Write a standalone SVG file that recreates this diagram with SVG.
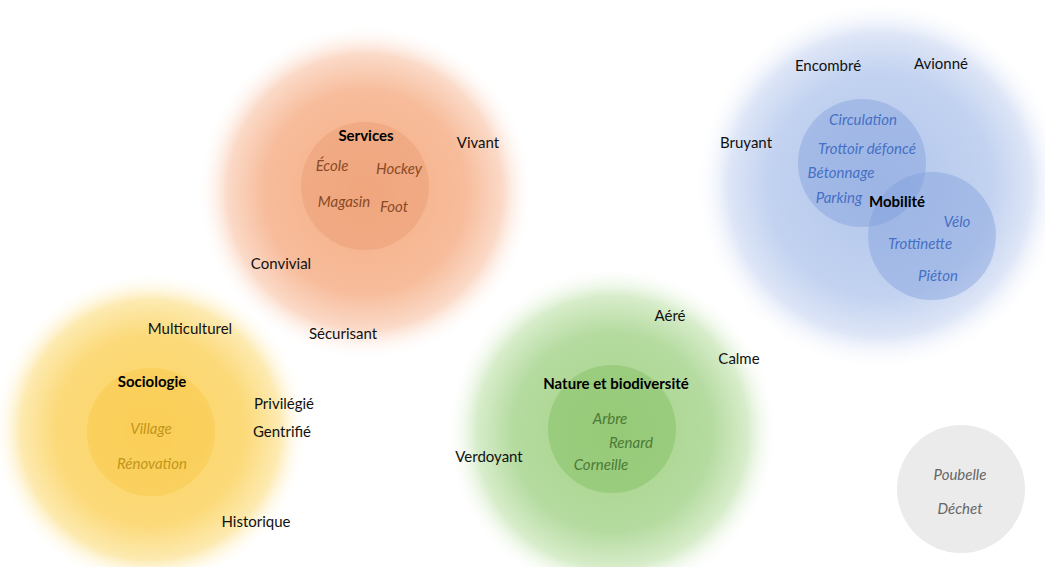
<svg xmlns="http://www.w3.org/2000/svg" width="1045" height="567" viewBox="0 0 1045 567">
<defs>
<radialGradient id="gO"><stop offset="0" stop-color="#f5ae85"/><stop offset="0.6" stop-color="#f7bc9b"/><stop offset="0.82" stop-color="#fbdac8"/><stop offset="1" stop-color="#ffffff" stop-opacity="0"/></radialGradient>
<radialGradient id="gB"><stop offset="0" stop-color="#b2c6ec"/><stop offset="0.6" stop-color="#c2d2f0"/><stop offset="0.82" stop-color="#dee6f7"/><stop offset="1" stop-color="#ffffff" stop-opacity="0"/></radialGradient>
<radialGradient id="gY"><stop offset="0" stop-color="#fcd463"/><stop offset="0.6" stop-color="#fcda7a"/><stop offset="0.82" stop-color="#fdeab0"/><stop offset="1" stop-color="#ffffff" stop-opacity="0"/></radialGradient>
<radialGradient id="gG"><stop offset="0" stop-color="#a6d488"/><stop offset="0.6" stop-color="#b5dba0"/><stop offset="0.82" stop-color="#d8edcb"/><stop offset="1" stop-color="#ffffff" stop-opacity="0"/></radialGradient>
</defs>
<style>
text{font-family:Lato,"Open Sans","Liberation Sans",sans-serif;font-size:15px;text-anchor:middle}
.k{fill:#111}
.b{font-weight:bold;fill:#000}
.io{font-style:italic;fill:#8a4a25}
.ib{font-style:italic;fill:#4670c4}
.iy{font-style:italic;fill:#c39618}
.ig{font-style:italic;fill:#4c7a36}
.ir{font-style:italic;fill:#666}
</style>
<rect width="1045" height="567" fill="#ffffff"/>
<g id="services">
<circle cx="365" cy="192" r="168" fill="url(#gO)"/>
<circle cx="365" cy="186" r="64" fill="#eda27a" opacity="0.6"/>
<text class="b" x="366" y="141">Services</text>
<text class="io" x="332" y="171">École</text>
<text class="io" x="399" y="174">Hockey</text>
<text class="io" x="344" y="207">Magasin</text>
<text class="io" x="394" y="212">Foot</text>
<text class="k" x="478" y="148">Vivant</text>
<text class="k" x="281" y="269">Convivial</text>
<text class="k" x="343" y="339">Sécurisant</text>
</g>
<g id="mobilite">
<circle cx="880" cy="185" r="185" fill="url(#gB)"/>
<circle cx="862" cy="163" r="64" fill="#7f9ddc" opacity="0.42"/>
<circle cx="932" cy="236" r="64" fill="#7f9ddc" opacity="0.42"/>
<text class="k" x="828" y="71">Encombré</text>
<text class="k" x="941" y="69">Avionné</text>
<text class="k" x="746" y="148">Bruyant</text>
<text class="ib" x="863" y="125">Circulation</text>
<text class="ib" x="867" y="154">Trottoir défoncé</text>
<text class="ib" x="841" y="178">Bétonnage</text>
<text class="ib" x="839" y="203">Parking</text>
<text class="b" x="897" y="207">Mobilité</text>
<text class="ib" x="957" y="227">Vélo</text>
<text class="ib" x="920" y="249">Trottinette</text>
<text class="ib" x="938" y="281">Piéton</text>
</g>
<g id="sociologie">
<circle cx="150" cy="430" r="158" fill="url(#gY)"/>
<circle cx="151" cy="432" r="64" fill="#f7c84a" opacity="0.5"/>
<text class="k" x="190" y="334">Multiculturel</text>
<text class="b" x="152" y="387">Sociologie</text>
<text class="iy" x="151" y="434">Village</text>
<text class="iy" x="152" y="469">Rénovation</text>
<text class="k" x="284" y="409">Privilégié</text>
<text class="k" x="282" y="437">Gentrifié</text>
<text class="k" x="256" y="527">Historique</text>
</g>
<g id="nature">
<circle cx="612" cy="432" r="166" fill="url(#gG)"/>
<circle cx="612" cy="429" r="64" fill="#86c066" opacity="0.5"/>
<text class="k" x="670" y="321">Aéré</text>
<text class="k" x="739" y="364">Calme</text>
<text class="b" x="616" y="389">Nature et biodiversité</text>
<text class="ig" x="610" y="424">Arbre</text>
<text class="ig" x="631" y="448">Renard</text>
<text class="ig" x="601" y="470">Corneille</text>
<text class="k" x="489" y="462">Verdoyant</text>
</g>
<g id="dechets">
<circle cx="961" cy="489" r="64" fill="#ebebec"/>
<text class="ir" x="960" y="480">Poubelle</text>
<text class="ir" x="960" y="514">Déchet</text>
</g>
<g id="connectors"/>
</svg>
